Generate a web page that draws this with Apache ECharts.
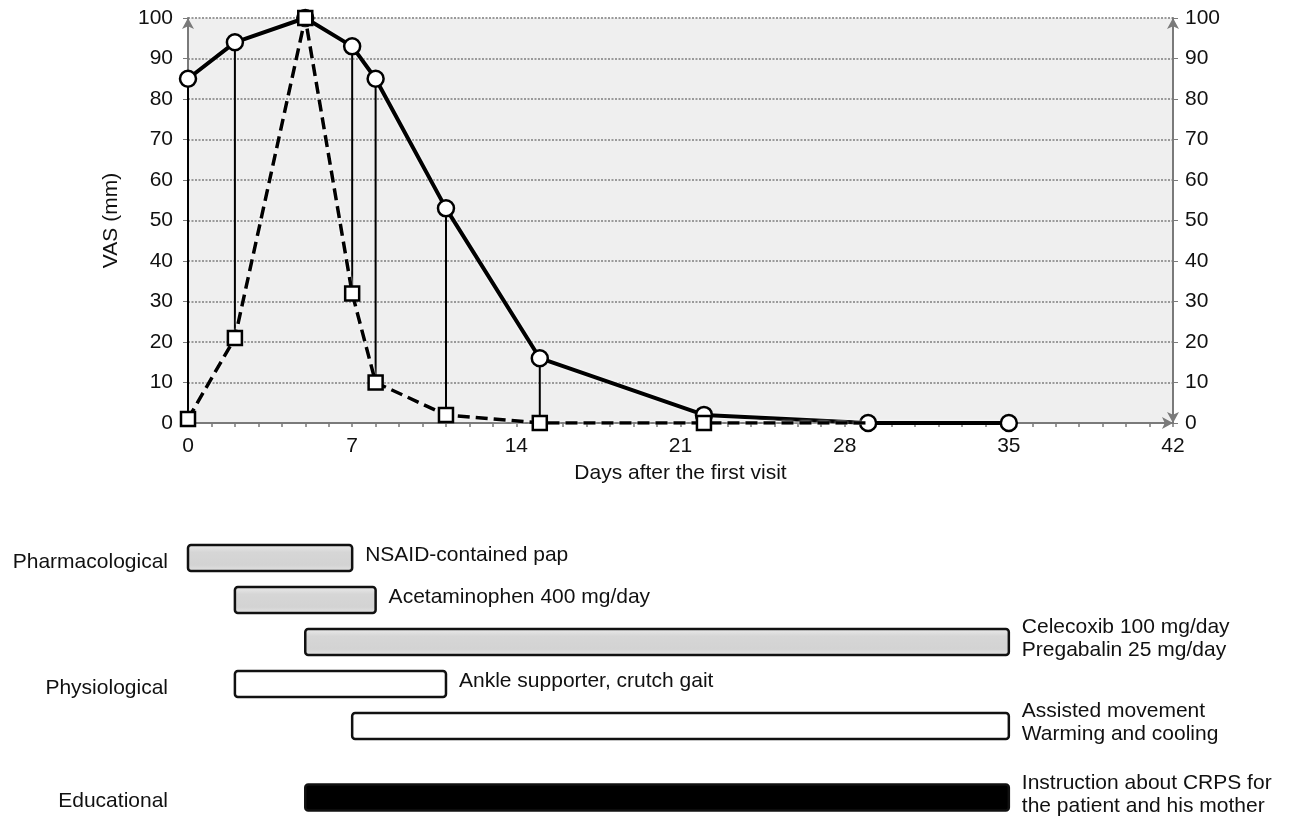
<!DOCTYPE html>
<html><head><meta charset="utf-8">
<script src="https://cdn.jsdelivr.net/npm/echarts/dist/echarts.min.js"></script>
<style>html,body{margin:0;padding:0;background:#fff}#c{width:1294px;height:821px}</style>
</head><body><div id="c"></div>
<script>
// ---- Data ----
const days = [0, 2, 5, 7, 8, 11, 15, 22, 29, 35];
const vasSolid = [85, 94, 100, 93, 85, 53, 16, 2, 0, 0];
const vasDashed = [1, 21, 100, 32, 10, 2, 0, 0, 0, null];
const dashedLastMarked = 22;
const xTicks = [0, 7, 14, 21, 28, 35, 42];
const yTicks = [0, 10, 20, 30, 40, 50, 60, 70, 80, 90, 100];

const treatments = [
  'NSAID-contained pap',
  'Acetaminophen 400 mg/day',
  'Celecoxib 100 mg/day\nPregabalin 25 mg/day',
  'Ankle supporter, crutch gait',
  'Assisted movement\nWarming and cooling',
  'Instruction about CRPS for\nthe patient and his mother'
];
const treatmentStart = [0, 2, 5, 2, 7, 5];
const treatmentEnd = [7, 8, 35, 11, 35, 35];
const treatmentGroup = ['Pharmacological', 'Pharmacological', 'Pharmacological', 'Physiological', 'Physiological', 'Educational'];
const treatmentRow = [0, 1, 2, 3, 4, 5.7];
const groups = ['Pharmacological', 'Physiological', 'Educational'];
const groupRow = [0, 3, 5.7];

// ---- Styles ----
const FONT = '"Liberation Sans", Arial, sans-serif';
const FS = 21;
const groupFill = {
  Pharmacological: new echarts.graphic.LinearGradient(0, 0, 0, 1, [
    {offset: 0, color: '#ededed'}, {offset: 0.3, color: '#d6d6d6'},
    {offset: 0.75, color: '#d3d3d3'}, {offset: 1, color: '#e6e6e6'}]),
  Physiological: '#ffffff',
  Educational: '#000000'
};

const chart = echarts.init(document.getElementById('c'));

const solidData = days.map((d, i) => [d, vasSolid[i]]);
const dashedData = days.map((d, i) => [d, vasDashed[i]]).filter(p => p[1] !== null);
const connectData = days.map((d, i) => [d, vasDashed[i], vasSolid[i]])
  .filter(p => p[1] !== null && Math.abs(p[2] - p[1]) > 3);

const axisGray = '#7a7a7a';
const yBase = {
  type: 'value', min: 0, max: 100, interval: 10,
  axisTick: {show: true, length: 5, lineStyle: {color: axisGray, width: 1}},
  gridIndex: 0
};

chart.setOption({
  animation: false,
  textStyle: {fontFamily: FONT},
  grid: [
    {left: 188, right: 121, top: 18, bottom: 398, show: true, backgroundColor: '#efefef', borderWidth: 0},
    {left: 188, right: 121, top: 537, height: 281.4, show: false}
  ],
  xAxis: [
    {
      type: 'value', min: 0, max: 42, interval: 7, gridIndex: 0,
      name: 'Days after the first visit', nameLocation: 'middle', nameGap: 40,
      nameTextStyle: {color: '#111', fontSize: FS, fontFamily: FONT},
      axisLine: {show: true, symbol: ['none', 'arrow'], symbolSize: [9, 11], lineStyle: {color: axisGray, width: 2}},
      axisTick: {show: true, length: 4, lineStyle: {color: axisGray, width: 1.5}},
      minorTick: {show: true, splitNumber: 7, length: 4, lineStyle: {color: axisGray, width: 1.5}},
      splitLine: {show: false},
      axisLabel: {color: '#111', fontSize: FS, fontFamily: FONT, margin: 13,
        formatter: v => xTicks.includes(v) ? String(v) : ''}
    },
    {type: 'value', min: 0, max: 42, gridIndex: 1, show: false}
  ],
  yAxis: [
    Object.assign({}, yBase, {
      position: 'left',
      name: 'VAS (mm)', nameLocation: 'middle', nameGap: 66, nameRotate: 90,
      nameTextStyle: {color: '#111', fontSize: FS, fontFamily: FONT},
      axisLine: {show: true, symbol: ['none', 'arrow'], symbolSize: [9, 11], lineStyle: {color: axisGray, width: 2}},
      axisLabel: {color: '#111', fontSize: FS, fontFamily: FONT, margin: 15,
        formatter: v => yTicks.includes(v) ? String(v) : ''},
      splitLine: {show: true, lineStyle: {color: '#9a9a9a', width: 2, type: [2, 1.5]}}
    }),
    Object.assign({}, yBase, {
      position: 'right',
      axisLine: {show: true, symbol: ['arrow', 'arrow'], symbolSize: [9, 11], lineStyle: {color: axisGray, width: 2}},
      axisLabel: {color: '#111', fontSize: FS, fontFamily: FONT, margin: 12,
        formatter: v => yTicks.includes(v) ? String(v) : ''},
      splitLine: {show: false}
    }),
    {type: 'value', min: -0.5, max: 6.2, inverse: true, gridIndex: 1, show: false}
  ],
  series: [
    {
      type: 'custom', xAxisIndex: 0, yAxisIndex: 0, z: 2,
      data: connectData,
      renderItem: (params, api) => {
        const a = api.coord([api.value(0), api.value(1)]);
        const b = api.coord([api.value(0), api.value(2)]);
        return {type: 'line', shape: {x1: a[0], y1: a[1], x2: b[0], y2: b[1]},
          style: {stroke: '#000', lineWidth: 2}};
      }
    },
    {
      type: 'line', xAxisIndex: 0, yAxisIndex: 0, z: 3,
      data: solidData,
      symbol: 'circle', symbolSize: 16,
      lineStyle: {color: '#000', width: 4, shadowColor: '#fff', shadowBlur: 3},
      itemStyle: {color: '#fff', borderColor: '#000', borderWidth: 2.5}
    },
    {
      type: 'line', xAxisIndex: 0, yAxisIndex: 0, z: 4,
      data: dashedData,
      symbol: (val) => val[0] <= dashedLastMarked ? 'rect' : 'none',
      symbolSize: 14,
      lineStyle: {color: '#000', width: 3.5, type: [12, 6], shadowColor: '#fff', shadowBlur: 3},
      itemStyle: {color: '#fff', borderColor: '#000', borderWidth: 2.5}
    },
    {
      type: 'custom', xAxisIndex: 1, yAxisIndex: 2,
      data: treatments.map((t, i) => [treatmentStart[i], treatmentEnd[i], treatmentRow[i]]),
      renderItem: (params, api) => {
        const i = params.dataIndex;
        const s = api.coord([api.value(0), api.value(2)]);
        const e = api.coord([api.value(1), api.value(2)]);
        const h = 26;
        return {type: 'group', children: [
          {type: 'rect', shape: {x: s[0], y: s[1] - h / 2, width: e[0] - s[0], height: h, r: 3},
            style: {fill: groupFill[treatmentGroup[i]], stroke: '#111', lineWidth: 2.5}},
          {type: 'text', x: e[0] + 13, y: s[1] - 3,
            style: {text: treatments[i], fill: '#111', font: FS + 'px ' + FONT,
              textAlign: 'left', textVerticalAlign: 'middle', lineHeight: 23}}
        ]};
      }
    },
    {
      type: 'custom', xAxisIndex: 1, yAxisIndex: 2,
      data: groups.map((g, i) => [0, groupRow[i]]),
      renderItem: (params, api) => {
        const p = api.coord([api.value(0), api.value(1)]);
        return {type: 'text', x: p[0] - 20, y: p[1] + 4,
          style: {text: groups[params.dataIndex], fill: '#111', font: FS + 'px ' + FONT,
            textAlign: 'right', textVerticalAlign: 'middle'}};
      }
    }
  ]
});
</script>
</body></html>
